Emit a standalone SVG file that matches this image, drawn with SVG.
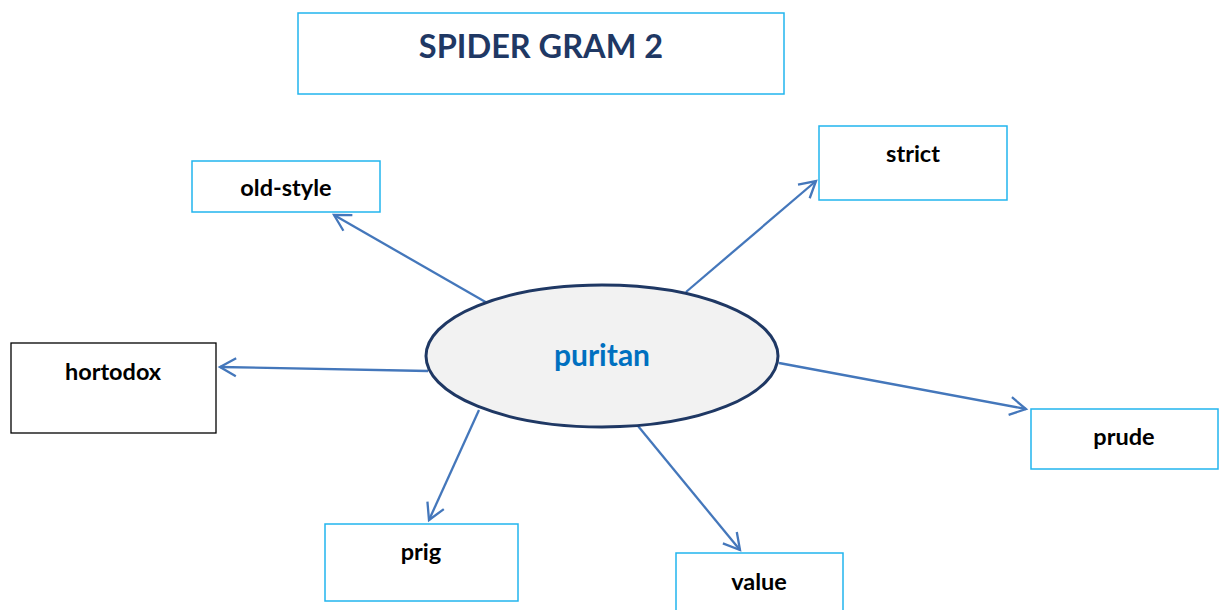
<svg xmlns="http://www.w3.org/2000/svg" width="1219" height="610" viewBox="0 0 1219 610">
<style>
.box{fill:#fff;stroke:#22B5EE;stroke-width:1.5}
.boxk{fill:#fff;stroke:#000;stroke-width:1.3}
.lbl{font-family:Lato,"Open Sans","Liberation Sans",sans-serif;font-weight:bold;font-size:23.5px;fill:#000;text-anchor:middle}
.con{stroke:#4477BB;stroke-width:2.3;fill:none;marker-end:url(#arr)}
</style>
<defs>
<marker id="arr" markerUnits="userSpaceOnUse" markerWidth="24" markerHeight="24" viewBox="0 0 24 24" refX="20" refY="12" orient="auto">
<path d="M4,3 L20,12 L4,21" fill="none" stroke="#4477BB" stroke-width="2.3"/>
</marker>
</defs>
<rect width="1219" height="610" fill="#fff"/>
<g id="title">
<rect class="box" x="298" y="13" width="486" height="81"/>
<text x="541" y="58" font-family="Lato,'Open Sans','Liberation Sans',sans-serif" font-weight="bold" font-size="32.5" fill="#1F3864" text-anchor="middle">SPIDER GRAM 2</text>
</g>
<g id="connectors">
<line class="con" x1="489" y1="304" x2="334" y2="215"/>
<line class="con" x1="686" y1="292" x2="816" y2="181"/>
<line class="con" x1="428" y1="371" x2="220" y2="367"/>
<line class="con" x1="779" y1="363" x2="1026" y2="409"/>
<line class="con" x1="479" y1="410" x2="429" y2="520"/>
<line class="con" x1="638" y1="426" x2="740" y2="550"/>
</g>
<g id="puritan">
<ellipse cx="602" cy="356" rx="176" ry="71" fill="#F2F2F2" stroke="#1F3864" stroke-width="3"/>
<text x="602" y="366" font-family="Lato,'Open Sans','Liberation Sans',sans-serif" font-weight="bold" font-size="30" fill="#0070C0" text-anchor="middle">puritan</text>
</g>
<g id="old-style">
<rect class="box" x="192" y="161" width="188" height="51"/>
<text class="lbl" x="286" y="196">old-style</text>
</g>
<g id="strict">
<rect class="box" x="819" y="126" width="188" height="74"/>
<text class="lbl" x="913" y="162">strict</text>
</g>
<g id="hortodox">
<rect class="boxk" x="11" y="343" width="205" height="90"/>
<text class="lbl" x="113" y="380">hortodox</text>
</g>
<g id="prude">
<rect class="box" x="1031" y="409" width="187" height="60"/>
<text class="lbl" x="1124" y="445">prude</text>
</g>
<g id="prig">
<rect class="box" x="325" y="524" width="193" height="77"/>
<text class="lbl" x="421" y="560">prig</text>
</g>
<g id="value">
<rect class="box" x="676" y="553" width="167" height="70"/>
<text class="lbl" x="759" y="590">value</text>
</g>
</svg>
